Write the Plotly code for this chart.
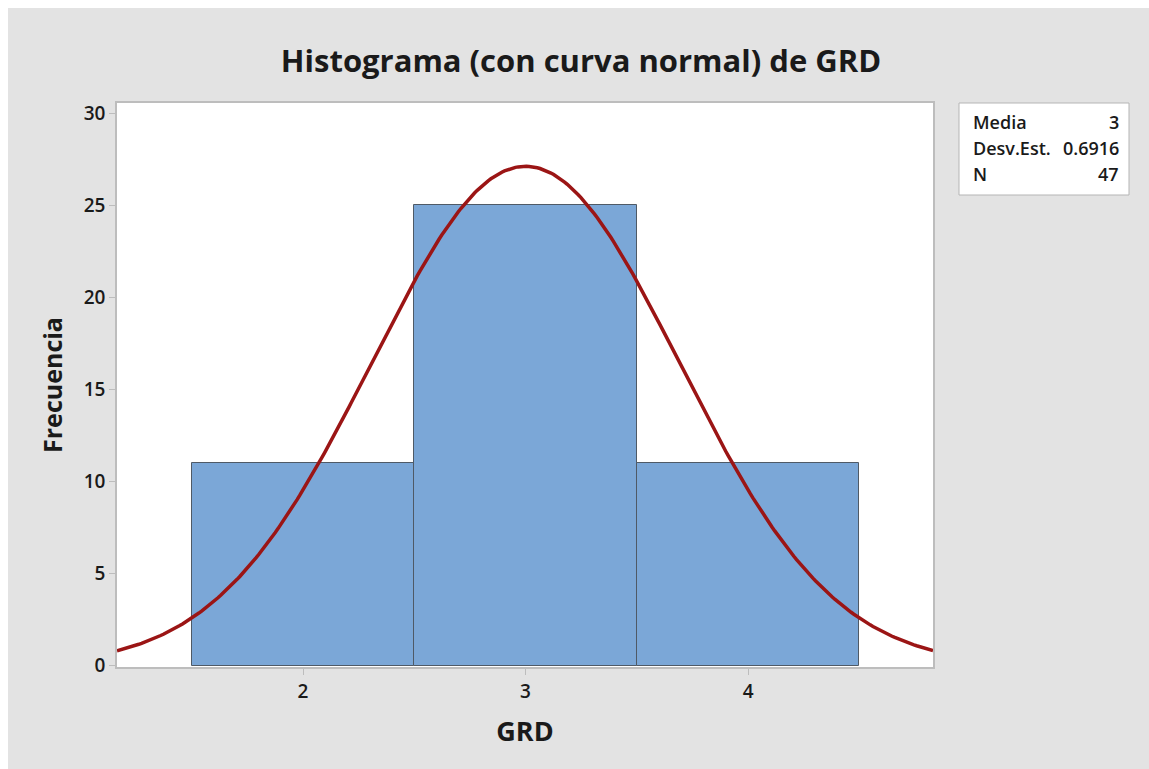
import numpy as np
import plotly.graph_objects as go

# ---- data ----
bin_centers = [2, 3, 4]
frequencies = [11, 25, 11]
bin_width = 1.0
media = 3.0
desv_est = 0.6916
n_obs = 47
stats_labels = ["Media", "Desv.Est.", "N"]
stats_values = ["3", "0.6916", "47"]
y_ticks = [0, 5, 10, 15, 20, 25, 30]

x_range = [1.164, 4.831]
y_range = [-0.08, 30.55]

# fitted normal curve derived from the displayed statistics
xc = np.linspace(x_range[0], x_range[1], 300)
yc = n_obs * bin_width * np.exp(-0.5 * ((xc - media) / desv_est) ** 2) / (desv_est * np.sqrt(2 * np.pi))

OFF = 8  # white page margin at top/left
W, H = 1149 - OFF, 769 - OFF
L, R, T, B = 117 - OFF, 933 - OFF, 103 - OFF, 667 - OFF
pw, ph = R - L, B - T

def px(x):  # x given in screen pixels
    return (x - OFF - L) / pw

def py(y):
    return (B - (y - OFF)) / ph

FONT = "Open Sans"
TXT = "#1a1a1a"

fig = go.Figure()
fig.add_trace(go.Bar(
    x=bin_centers, y=frequencies, width=bin_width,
    marker=dict(color="#7BA7D7", line=dict(color="#4F5A66", width=1)),
    showlegend=False, hoverinfo="x+y",
))
fig.add_trace(go.Scatter(
    x=xc, y=yc, mode="lines",
    line=dict(color="#9B1515", width=3.5),
    showlegend=False, cliponaxis=True,
))

axis_common = dict(
    showline=True, linecolor="#BDBDBD", linewidth=1.5, mirror=True,
    ticks="outside", ticklen=6, tickcolor="#BDBDBD", tickwidth=1,
    showgrid=False, zeroline=False,
    tickfont=dict(family=FONT, size=19, color=TXT, weight=600),
)

fig.update_layout(
    width=W, height=H,
    margin=dict(l=L, r=W - R, t=T, b=H - B),
    paper_bgcolor="#E3E3E3", plot_bgcolor="white",
    title=dict(
        text="Histograma (con curva normal) de GRD",
        x=px(581), xref="paper", xanchor="center",
        y=1 - (61 - OFF) / H, yanchor="middle",
        font=dict(family=FONT, size=31, color=TXT, weight="bold"),
    ),
    xaxis=dict(
        range=x_range, tickvals=bin_centers, ticktext=[str(v) for v in bin_centers],
        title=dict(text="GRD", font=dict(family=FONT, size=27, color=TXT, weight="bold"), standoff=20),
        **axis_common,
    ),
    yaxis=dict(
        range=y_range, tickvals=y_ticks,
        title=dict(text="Frecuencia", font=dict(family=FONT, size=25, color=TXT, weight="bold"), standoff=14),
        **axis_common,
    ),
    bargap=0,
    showlegend=False,
)

# statistics box
fig.add_shape(type="rect", xref="paper", yref="paper",
              x0=px(959), x1=px(1129), y0=py(195), y1=py(103),
              fillcolor="white", line=dict(color="#B5B5B5", width=1), layer="above")
rows_y = [122, 148, 174]
for lab, val, ry in zip(stats_labels, stats_values, rows_y):
    fig.add_annotation(xref="paper", yref="paper", x=px(971), y=py(ry),
                       text=lab, showarrow=False, xanchor="left", yanchor="middle",
                       font=dict(family=FONT, size=18, color=TXT, weight=600))
    fig.add_annotation(xref="paper", yref="paper", x=px(1121), y=py(ry),
                       text=val, showarrow=False, xanchor="right", yanchor="middle",
                       font=dict(family=FONT, size=18, color=TXT, weight=600))

fig.write_html(
    "out.html",
    post_script="document.body.style.margin='8px 0 0 8px';document.body.style.overflow='hidden';",
)
